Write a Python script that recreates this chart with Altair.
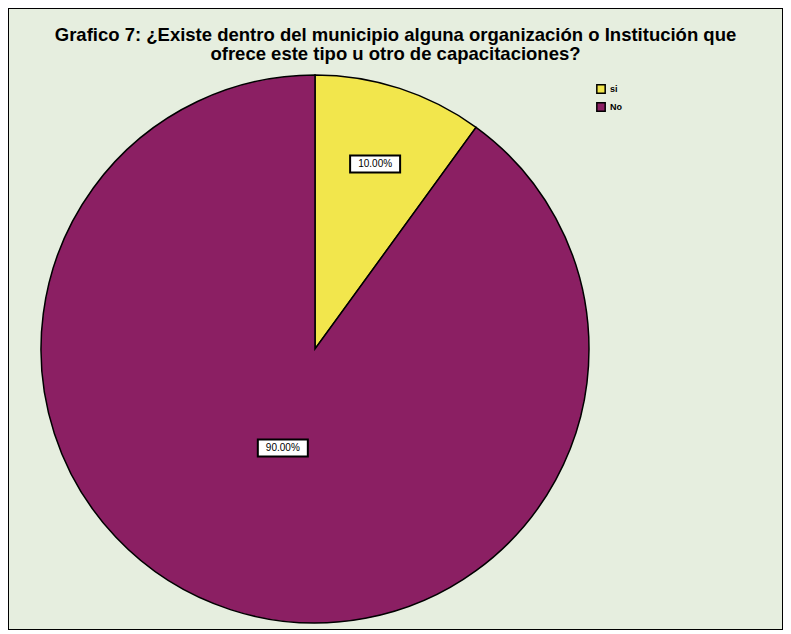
import altair as alt
import pandas as pd

categories = ["si", "No"]
values = [10.0, 90.0]
order_idx = [0, 1]
colors = ["#f2e64c", "#8b1f63"]
title_lines = [
    "Grafico 7: ¿Existe dentro del municipio alguna organización o Institución que",
    "ofrece este tipo u otro de capacitaciones?",
]

df = pd.DataFrame({"cat": categories, "value": values, "idx": order_idx})

base = alt.Chart(df)

pie = base.mark_arc(outerRadius=274, stroke="black", strokeWidth=1.5).encode(
    theta=alt.Theta("value:Q", stack=True),
    color=alt.Color(
        "cat:N",
        scale=alt.Scale(domain=categories, range=colors),
        legend=alt.Legend(
            title=None,
            orient="none",
            legendX=588,
            legendY=76,
            symbolType="square",
            symbolSize=70,
            symbolStrokeColor="black",
            symbolStrokeWidth=1.5,
            labelFontSize=9,
            labelFont="Liberation Sans",
            labelFontWeight="bold",
            labelColor="black",
            rowPadding=2,
            padding=0,
        ),
    ),
    order=alt.Order("idx:Q"),
    x=alt.value(307),
    y=alt.value(341),
)

lab = base.transform_joinaggregate(total="sum(value)").transform_window(
    cum="sum(value)", sort=[alt.SortField("idx")]
).transform_calculate(
    mid="(datum.cum - datum.value/2)/datum.total*2*PI",
    r="datum.value < 50 ? 0.71 : 0.38",
    lx="datum.r*sin(datum.mid)",
    ly="datum.r*cos(datum.mid)",
    label="format(datum.value, '.2f') + '%'",
)

xs = alt.X("lx:Q", scale=alt.Scale(domain=[-1, 1], range=[33, 581]), axis=None)
ys = alt.Y("ly:Q", scale=alt.Scale(domain=[-1, 1], range=[615, 67]), axis=None)

boxes = lab.mark_point(
    shape="M-1,-0.34L1,-0.34L1,0.34L-1,0.34Z",
    size=2500,
    filled=True,
    fill="white",
    stroke="black",
    strokeWidth=2,
    opacity=1,
).encode(x=xs, y=ys)

texts = lab.mark_text(
    font="Liberation Sans", fontSize=10, color="black"
).encode(x=xs, y=ys, text="label:N")

chart = alt.layer(pie, boxes, texts).properties(
    width=775,
    height=622,
    autosize=alt.AutoSizeParams(type="none"),
    padding=0,
    title=alt.TitleParams(
        text=title_lines,
        font="Liberation Sans",
        fontSize=18.5,
        fontWeight="bold",
        color="black",
        anchor="middle",
        offset=-55,
        lineHeight=19,
    ),
).configure(
    background="white",
    view=alt.ViewConfig(fill="#e6eedf", stroke="black", strokeWidth=2),
)

chart.save("out.html", embed_options={"renderer": "svg", "actions": False})
